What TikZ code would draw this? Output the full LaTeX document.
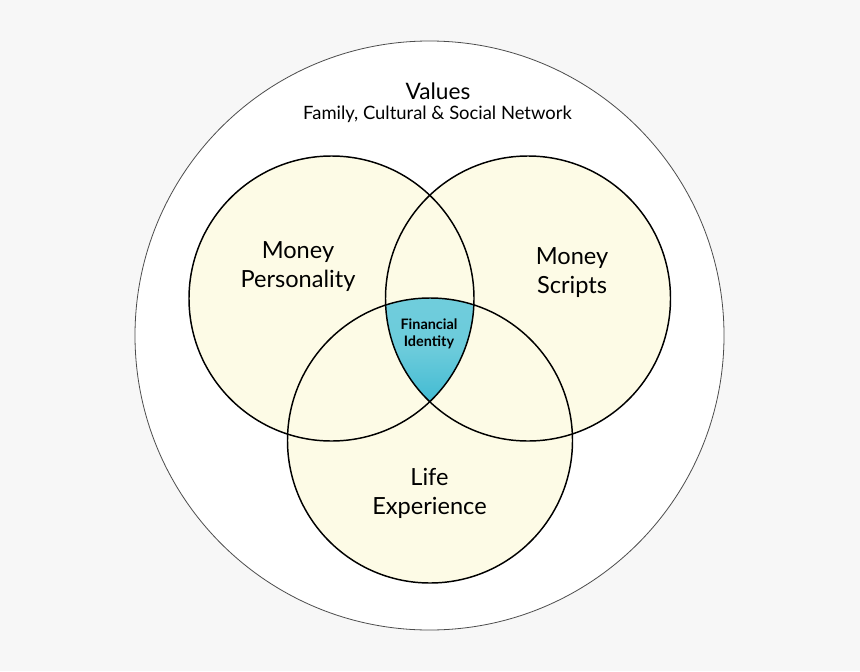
\documentclass[tikz,border=0pt]{standalone}
\usepackage{fontspec}
\setmainfont{Lato}

\definecolor{bgcol}{HTML}{F7F7F7}
\definecolor{cream}{HTML}{FDFBE6}
\definecolor{tealtop}{HTML}{70CDDC}
\definecolor{tealbot}{HTML}{40BAD2}

\tikzset{
  ring/.style={draw=black, line width=1.1pt},
  bigring/.style={draw=black!70, line width=0.6pt},
  txt/.style={align=center, inner sep=0pt,
    font=\fontsize{17.7}{21.75}\selectfont},
}

\begin{document}
\begin{tikzpicture}[x=0.75pt, y=-0.75pt]

  \fill[bgcol] (0,0) rectangle (860,671);
  \useasboundingbox (0,0) rectangle (860,671);

  % values ring
  \filldraw[fill=white, bigring] (429.5,335.5) circle (294.5);

  \fill[cream] (331.5,298.5) circle (142.5);
  \fill[cream] (528,298.5) circle (142.5);
  \fill[cream] (430,440.5) circle (142.5);

  % the part shared by all three
  \begin{scope}
    \clip (331.5,298.5) circle (142.5);
    \clip (528,298.5) circle (142.5);
    \clip (430,440.5) circle (142.5);
    \shade[top color=tealtop, bottom color=tealbot, middle color=tealtop!90!tealbot]
      (370,295) rectangle (490,405);
  \end{scope}

  \draw[ring] (331.5,298.5) circle (142.5);
  \draw[ring] (528,298.5) circle (142.5);
  \draw[ring] (430,440.5) circle (142.5);

  \node[txt, font=\fontsize{17}{18}\selectfont] (values) at ({438}, 91) {Values};
  \node[txt, font=\fontsize{13.8}{16}\selectfont] (network) at ({437.5}, 114)
    {Family, Cultural \& Social Network};

  \node[txt] (personality) at ({298}, 266.5) {Money\\Personality};
  \node[txt] (scripts) at ({572}, 272.5) {Money\\Scripts};
  \node[txt] (life) at ({429.5}, 493) {Life\\Experience};
  \node[txt, font=\bfseries\fontsize{10.8}{12.75}\selectfont] (identity) at ({429}, 333.5)
    {Financial\\Identity};

\end{tikzpicture}
\end{document}
